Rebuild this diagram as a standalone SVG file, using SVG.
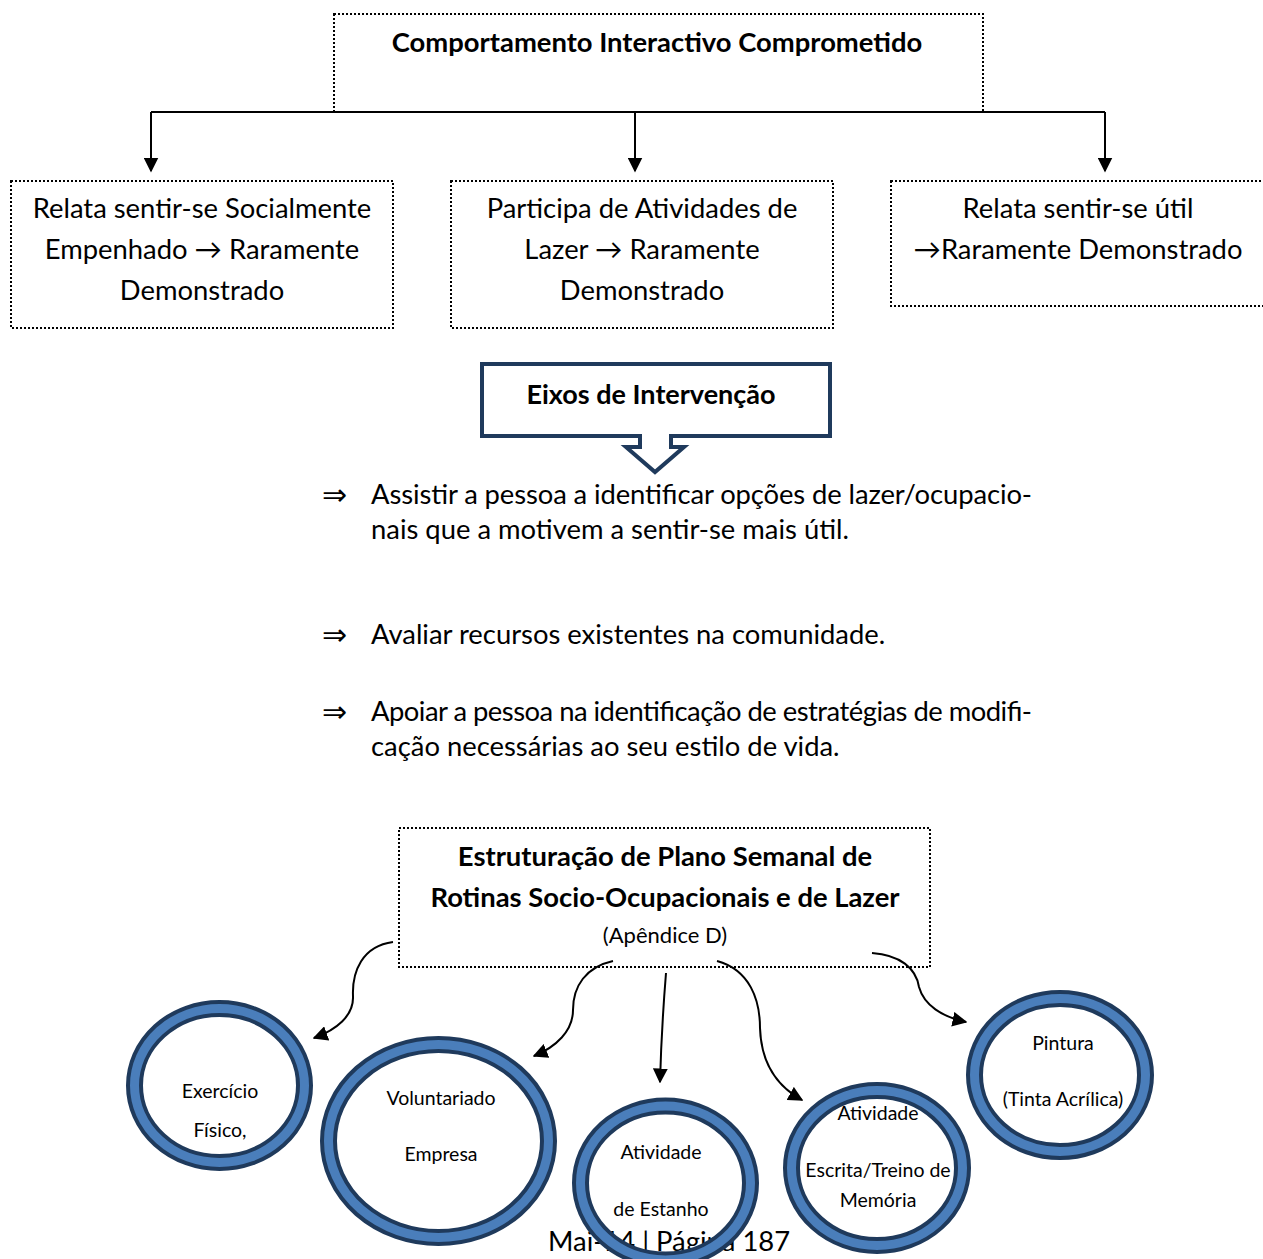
<svg xmlns="http://www.w3.org/2000/svg" width="1263" height="1259" viewBox="0 0 1263 1259">
  <style>
    .t { font-family: Lato, "Liberation Sans", sans-serif; fill: #000; text-anchor: middle; }
    .b { font-weight: bold; }
    .box { fill: #fff; stroke: #000; stroke-width: 2; stroke-dasharray: 2 2; }
    .body { font-family: Lato, "Liberation Sans", sans-serif; font-size: 27.4px; fill: #000; }
    .sym { font-family: "DejaVu Sans", sans-serif; font-size: 30px; fill: #000; }
    .edge { fill: none; stroke: #000; stroke-width: 2; }
    .ringd { fill: none; stroke: #1F3A5C; stroke-width: 17; }
    .ringb { fill: none; stroke: #4A7EBB; stroke-width: 9; }
    .small { font-family: Lato, "Liberation Sans", sans-serif; font-size: 19.5px; fill: #000; text-anchor: middle; }
  </style>
  <defs>
    <marker id="ah" viewBox="0 0 10 10" refX="9" refY="5" markerWidth="7.5" markerHeight="7.5" markerUnits="strokeWidth" orient="auto">
      <path d="M0,0 L10,5 L0,10 Z" fill="#000"/>
    </marker>
  </defs>
  <rect width="1263" height="1259" fill="#fff"/>

  <!-- Top node -->
  <g id="node-top">
    <rect class="box" x="334" y="14" width="649" height="98"/>
    <text class="t b" x="657" y="52" font-size="27.4">Comportamento Interactivo Comprometido</text>
  </g>

  <!-- Tree connectors -->
  <g id="connectors-top">
    <line class="edge" x1="151" y1="112" x2="1105" y2="112"/>
    <line class="edge" x1="151" y1="112" x2="151" y2="171" marker-end="url(#ah)"/>
    <line class="edge" x1="635" y1="112" x2="635" y2="171" marker-end="url(#ah)"/>
    <line class="edge" x1="1105" y1="112" x2="1105" y2="171" marker-end="url(#ah)"/>
  </g>

  <g id="node-social">
    <rect class="box" x="11" y="181" width="382" height="147"/>
    <text class="t" x="202" y="218" font-size="27.4">Relata sentir-se Socialmente</text>
    <text class="t" x="202" y="259" font-size="27.4">Empenhado → Raramente</text>
    <text class="t" x="202" y="300" font-size="27.4">Demonstrado</text>
  </g>

  <g id="node-lazer">
    <rect class="box" x="451" y="181" width="382" height="147"/>
    <text class="t" x="642" y="218" font-size="27.4">Participa de Atividades de</text>
    <text class="t" x="642" y="259" font-size="27.4">Lazer → Raramente</text>
    <text class="t" x="642" y="300" font-size="27.4">Demonstrado</text>
  </g>

  <g id="node-util">
    <rect class="box" x="891" y="181" width="380" height="125"/>
    <text class="t" x="1078" y="218" font-size="27.4">Relata sentir-se útil</text>
    <text class="t" x="1078" y="259" font-size="27.4">→Raramente Demonstrado</text>
  </g>

  <!-- Callout -->
  <g id="node-eixos">
    <path d="M482,364 H830 V436 H671 V447 H684 L655,472 L626,447 H640 V436 H482 Z" fill="#fff" stroke="#1F3A5C" stroke-width="4" stroke-linejoin="miter"/>
    <text class="t b" x="651" y="404" font-size="27">Eixos de Intervenção</text>
  </g>

  <!-- Intervention list -->
  <g id="list">
    <text class="sym" x="322" y="505">⇒</text>
    <text class="body" x="371" y="504" textLength="661" lengthAdjust="spacing">Assistir a pessoa a identificar opções de lazer/ocupacio-</text>
    <text class="body" x="371" y="539">nais que a motivem a sentir-se mais útil.</text>
    <text class="sym" x="322" y="645">⇒</text>
    <text class="body" x="371" y="644">Avaliar recursos existentes na comunidade.</text>
    <text class="sym" x="322" y="722">⇒</text>
    <text class="body" x="371" y="721" textLength="661" lengthAdjust="spacing">Apoiar a pessoa na identificação de estratégias de modifi-</text>
    <text class="body" x="371" y="756">cação necessárias ao seu estilo de vida.</text>
  </g>

  <!-- Plan node -->
  <g id="node-plano">
    <rect class="box" x="399" y="828" width="531" height="139"/>
    <text class="t b" x="665" y="866" font-size="27.4">Estruturação de Plano Semanal de</text>
    <text class="t b" x="665" y="907" font-size="27.4">Rotinas Socio-Ocupacionais e de Lazer</text>
    <text class="t" x="665" y="943" font-size="22">(Apêndice D)</text>
  </g>

  <!-- Page footer -->
  <text class="body" x="548" y="1251" font-size="29">Mai-14 | Página 187</text>

  <!-- Curved connectors -->
  <g id="connectors-plano">
    <path class="edge" d="M393,942 C362,946 352,972 353,996 C354,1016 336,1030 314,1038" marker-end="url(#ah)"/>
    <path class="edge" d="M613,961 C586,967 573,986 573,1010 C573,1031 556,1047 534,1056" marker-end="url(#ah)"/>
    <path class="edge" d="M666,973 C663,1010 661,1045 660,1082" marker-end="url(#ah)"/>
    <path class="edge" d="M717,961 C750,970 760,1000 760,1028 C761,1060 775,1085 802,1100" marker-end="url(#ah)"/>
    <path class="edge" d="M872,953 C900,955 916,968 919,987 C924,1005 942,1017 966,1022" marker-end="url(#ah)"/>
  </g>

  <!-- Activity rings -->
  <g id="node-exercicio">
    <text class="small" x="220" y="1098">Exercício</text>
    <text class="small" x="220" y="1137">Físico,</text>
    <ellipse class="ringd" cx="219.5" cy="1085.5" rx="85" ry="77"/>
    <ellipse class="ringb" cx="219.5" cy="1085.5" rx="85" ry="77"/>
  </g>

  <g id="node-voluntariado">
    <text class="small" x="441" y="1105">Voluntariado</text>
    <text class="small" x="441" y="1161">Empresa</text>
    <ellipse class="ringd" cx="438.5" cy="1141" rx="110" ry="96.5"/>
    <ellipse class="ringb" cx="438.5" cy="1141" rx="110" ry="96.5"/>
  </g>

  <g id="node-estanho">
    <text class="small" x="661" y="1159">Atividade</text>
    <text class="small" x="661" y="1216">de Estanho</text>
    <ellipse class="ringd" cx="665.5" cy="1183" rx="85" ry="77"/>
    <ellipse class="ringb" cx="665.5" cy="1183" rx="85" ry="77"/>
  </g>

  <g id="node-escrita">
    <text class="small" x="878" y="1120">Atividade</text>
    <text class="small" x="878" y="1177">Escrita/Treino de</text>
    <text class="small" x="878" y="1207">Memória</text>
    <ellipse class="ringd" cx="877" cy="1168" rx="85.5" ry="77.5"/>
    <ellipse class="ringb" cx="877" cy="1168" rx="85.5" ry="77.5"/>
  </g>

  <g id="node-pintura">
    <ellipse class="ringd" cx="1060" cy="1075" rx="85.5" ry="76.5"/>
    <ellipse class="ringb" cx="1060" cy="1075" rx="85.5" ry="76.5"/>
    <text class="small" x="1063" y="1050">Pintura</text>
    <text class="small" x="1063" y="1106">(Tinta Acrílica)</text>
  </g>
</svg>
